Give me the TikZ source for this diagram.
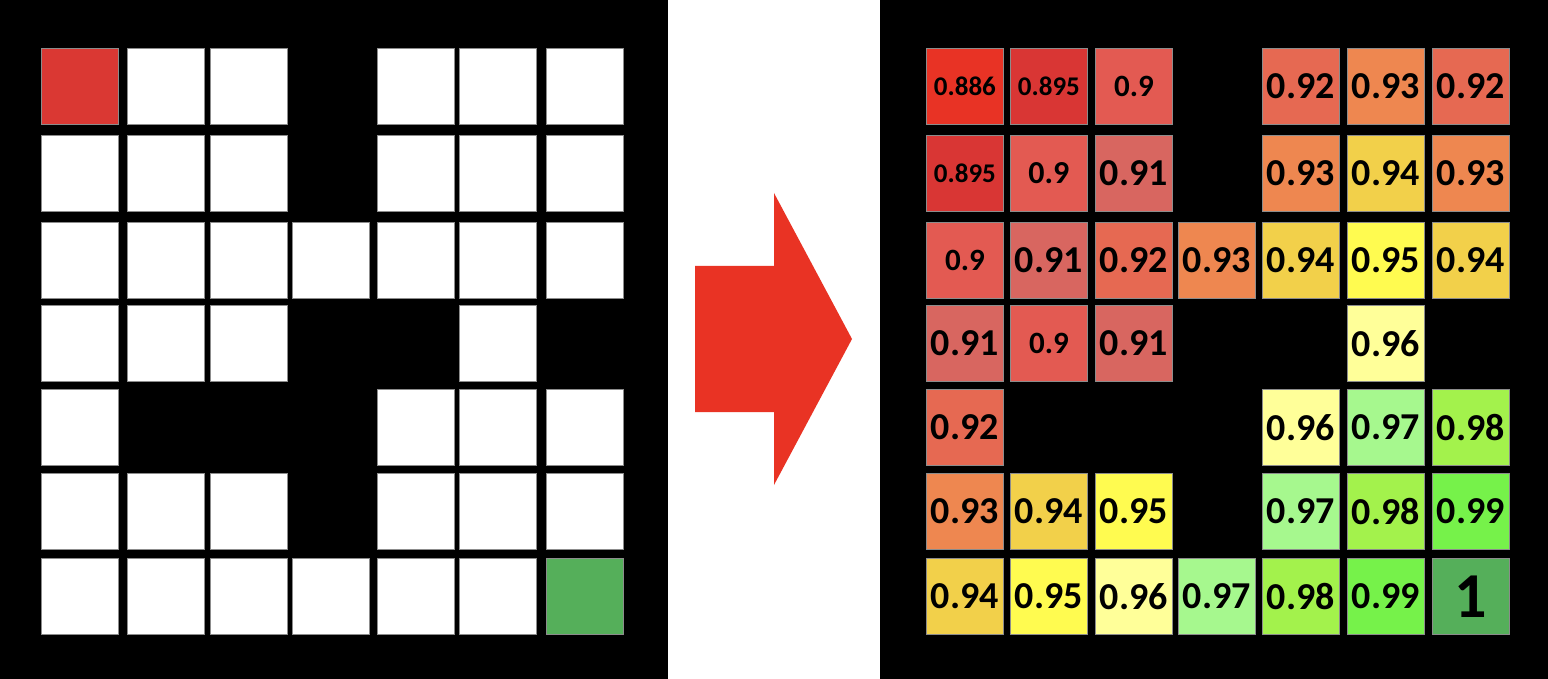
\documentclass[tikz,border=0pt]{standalone}
\usepackage{fontspec}
\setmainfont{Carlito}
\usepackage{xcolor}
\usepackage{tikz}
\usetikzlibrary{positioning}

\definecolor{startred}{HTML}{DA3833}
\definecolor{goalgreen}{HTML}{55AF5A}
\definecolor{arrowred}{HTML}{E93324}
\definecolor{v886}{HTML}{E83325}
\definecolor{v895}{HTML}{D93634}
\definecolor{v90}{HTML}{E35A52}
\definecolor{v91}{HTML}{D86660}
\definecolor{v92}{HTML}{E66952}
\definecolor{v93}{HTML}{EE8750}
\definecolor{v94}{HTML}{F2D04A}
\definecolor{v95}{HTML}{FFFB50}
\definecolor{v96}{HTML}{FFFF99}
\definecolor{v97}{HTML}{A6F88E}
\definecolor{v98}{HTML}{A3F24C}
\definecolor{v99}{HTML}{76F24A}

\begin{document}
\begin{tikzpicture}[
    x=1pt, y=-1pt,
    panel/.style={fill=black},
    cell/.style={draw=black!45, line width=0.8pt, fill=#1, minimum width=77pt, minimum height=76pt, inner sep=0pt, anchor=north west},
    celltext/.style={font=\fontsize{#1}{#1}\selectfont\bfseries, text=black}
]

  % Background
  \useasboundingbox (0,0) rectangle (1548,679);
  \fill[white] (0,0) rectangle (1548,679);
  \fill[panel] (0,0) rectangle (668,679);
  \fill[panel] (880,0) rectangle (1548,679);

  % Maze
  \foreach \r/\c/\col in {1/1/startred, 1/2/white, 1/3/white, 1/5/white, 1/6/white, 1/7/white,
                          2/1/white, 2/2/white, 2/3/white, 2/5/white, 2/6/white, 2/7/white,
                          3/1/white, 3/2/white, 3/3/white, 3/4/white, 3/5/white, 3/6/white, 3/7/white,
                          4/1/white, 4/2/white, 4/3/white, 4/6/white,
                          5/1/white, 5/5/white, 5/6/white, 5/7/white,
                          6/1/white, 6/2/white, 6/3/white, 6/5/white, 6/6/white, 6/7/white,
                          7/1/white, 7/2/white, 7/3/white, 7/4/white, 7/5/white, 7/6/white, 7/7/goalgreen}
    \node[cell=\col] (maze-\r-\c) at ({{41,127,210,292,377,459,546}[\c-1]}, {{48,135,222,305,389,473,558}[\r-1]}) {};

  % Arrow
  \fill[arrowred] (695,266) -- (774,266) -- (774,193) -- (852,339) -- (774,485) -- (774,412) -- (695,412) -- cycle;

  % Values
  \foreach \r/\c/\v/\col/\fs in {1/1/0.886/v886/27, 1/2/0.895/v895/27, 1/3/0.9/v90/31, 1/5/0.92/v92/38, 1/6/0.93/v93/38, 1/7/0.92/v92/38,
                                 2/1/0.895/v895/27, 2/2/0.9/v90/32, 2/3/0.91/v91/38, 2/5/0.93/v93/38, 2/6/0.94/v94/38, 2/7/0.93/v93/38,
                                 3/1/0.9/v90/31, 3/2/0.91/v91/38, 3/3/0.92/v92/38, 3/4/0.93/v93/38, 3/5/0.94/v94/38, 3/6/0.95/v95/38, 3/7/0.94/v94/38,
                                 4/1/0.91/v91/38, 4/2/0.9/v90/31, 4/3/0.91/v91/38, 4/6/0.96/v96/38,
                                 5/1/0.92/v92/38, 5/5/0.96/v96/38, 5/6/0.97/v97/38, 5/7/0.98/v98/38,
                                 6/1/0.93/v93/38, 6/2/0.94/v94/38, 6/3/0.95/v95/38, 6/5/0.97/v97/38, 6/6/0.98/v98/38, 6/7/0.99/v99/38,
                                 7/1/0.94/v94/38, 7/2/0.95/v95/38, 7/3/0.96/v96/38, 7/4/0.97/v97/38, 7/5/0.98/v98/38, 7/6/0.99/v99/38, 7/7/1/goalgreen/64}
    \node[cell=\col, celltext=\fs] (value-\r-\c) at ({{926,1010,1095,1178,1262,1347,1432}[\c-1]}, {{48,135,222,305,389,473,558}[\r-1]}) {\v};

\end{tikzpicture}
\end{document}
